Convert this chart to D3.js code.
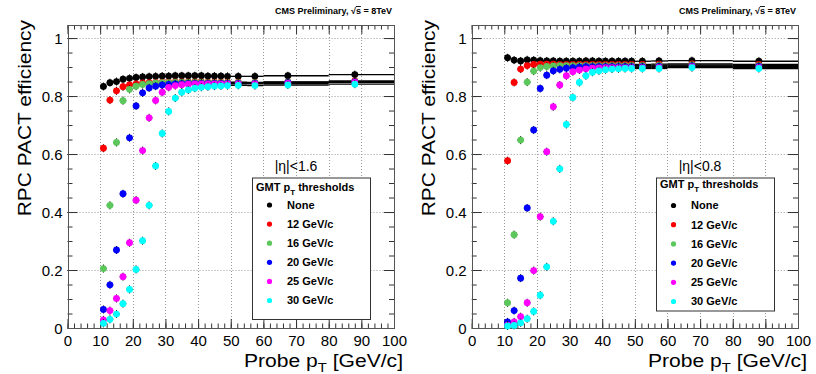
<!DOCTYPE html>
<html>
<head>
<meta charset="utf-8">
<script src="https://cdn.jsdelivr.net/npm/d3@7"></script>
<style>
body { margin: 0; background: #fff; }
text { font-family: "Liberation Sans", Arial, Helvetica, sans-serif; }
</style>
</head>
<body>
<script>
// probe pT bins (GeV/c): low edge, high edge, mean pT of the bin
const binLo  = [10, 12, 14, 16, 18, 20, 22, 24, 26, 28, 30, 32, 34, 36, 38, 40, 42, 44, 46, 48, 50, 55, 60, 80];
const binHi  = [12, 14, 16, 18, 20, 22, 24, 26, 28, 30, 32, 34, 36, 38, 40, 42, 44, 46, 48, 50, 55, 60, 80, 100];
const ptMean = [11, 13, 15, 17, 19, 21, 23, 25, 27, 29, 31, 33, 35, 37, 39, 41, 43, 45, 47, 49, 52.3, 57.4, 67.5, 88];

const seriesNames = ["None", "12 GeV/c", "16 GeV/c", "20 GeV/c", "25 GeV/c", "30 GeV/c"];
const seriesColors = ["#000000", "#ff0000", "#5cc85c", "#0000ff", "#ff00ff", "#00ffff"];

// |eta| < 1.6
const eff16_none = [.833,.846,.850,.858,.861,.864,.866,.867,.868,.869,.869,.870,.870,.870,.870,.870,.869,.869,.869,.868,.868,.868,.870,.874];
const eff16_12   = [.620,.786,.818,.832,.838,.842,.845,.846,.847,.848,.848,.849,.849,.849,.849,.849,.848,.848,.848,.848,.848,.847,.849,.852];
const eff16_16   = [.205,.423,.640,.784,.823,.834,.840,.843,.845,.846,.846,.847,.847,.847,.847,.847,.846,.846,.846,.846,.846,.846,.848,.850];
const eff16_20   = [.064,.149,.269,.463,.656,.766,.811,.828,.834,.838,.840,.842,.843,.844,.844,.844,.844,.844,.844,.844,.844,.844,.846,.849];
const eff16_25   = [.028,.060,.102,.177,.294,.441,.612,.725,.785,.813,.830,.836,.839,.841,.842,.842,.842,.842,.842,.842,.842,.842,.844,.847];
const eff16_30   = [.016,.030,.048,.084,.133,.202,.301,.423,.559,.671,.747,.793,.813,.821,.827,.830,.832,.834,.835,.836,.837,.836,.838,.841];

// |eta| < 0.8
const eff08_none = [.932,.924,.921,.925,.924,.922,.921,.921,.920,.920,.920,.920,.921,.921,.920,.920,.920,.920,.920,.920,.920,.921,.922,.920];
const eff08_12   = [.577,.847,.893,.905,.909,.910,.910,.910,.909,.909,.909,.909,.909,.909,.909,.909,.909,.909,.909,.909,.909,.910,.911,.909];
const eff08_16   = [.087,.322,.648,.848,.886,.898,.902,.904,.905,.905,.905,.905,.905,.905,.905,.905,.905,.905,.905,.905,.905,.906,.907,.905];
const eff08_20   = [.021,.060,.172,.414,.683,.826,.872,.887,.892,.896,.898,.900,.901,.901,.901,.901,.901,.901,.901,.901,.901,.902,.904,.902];
const eff08_25   = [.010,.021,.039,.087,.198,.384,.608,.763,.838,.870,.884,.890,.894,.896,.897,.898,.898,.898,.898,.898,.898,.899,.901,.899];
const eff08_30   = [.007,.009,.018,.032,.057,.113,.211,.368,.549,.702,.795,.847,.870,.882,.887,.891,.893,.894,.895,.895,.895,.895,.898,.895];

const xTicks = d3.range(0, 101, 10);
const yTicks = [0, 0.2, 0.4, 0.6, 0.8, 1];

const svgWidth = 816;
const svgHeight = 374;

const frameTop = 25;
const frameBottom = 328;

const panels = [
    {
        left: 67.5, right: 394, etaLabel: "|η|<1.6",
        series: [eff16_none, eff16_12, eff16_16, eff16_20, eff16_25, eff16_30],
        legend: {x: 252, y: 177.5, w: 118, h: 141.5, etaX: 296, titleY: 191, rowY: 205, step: 19.1}
    },
    {
        left: 471.7, right: 798, etaLabel: "|η|<0.8",
        series: [eff08_none, eff08_12, eff08_16, eff08_20, eff08_25, eff08_30],
        legend: {x: 656, y: 177.5, w: 118, h: 133, etaX: 700, titleY: 188, rowY: 205.5, step: 19.2}
    }
];

const svg = d3.select("body")
    .append("svg")
    .attr("width", svgWidth)
    .attr("height", svgHeight)
    .style("background", "#fff");

panels.forEach(draw_panel);

function draw_panel(p) {
    const x = d3.scaleLinear().domain([0, 100]).range([p.left, p.right]);
    const y = d3.scaleLinear().domain([0, 1.045]).range([frameBottom, frameTop]);

    const g = svg.append("g");

    // dotted grid
    const grid = g.append("g")
        .attr("stroke", "#999")
        .attr("stroke-width", 1)
        .attr("stroke-dasharray", "1,2");
    grid.selectAll(null)
        .data(xTicks.slice(1, -1))
        .join("line")
        .attr("x1", d => Math.round(x(d)) + 0.5).attr("x2", d => Math.round(x(d)) + 0.5)
        .attr("y1", frameTop).attr("y2", frameBottom);
    grid.selectAll(null)
        .data(yTicks.slice(1))
        .join("line")
        .attr("x1", p.left).attr("x2", p.right)
        .attr("y1", d => Math.round(y(d)) + 0.5).attr("y2", d => Math.round(y(d)) + 0.5);

    // axes, ROOT style: ticks inside on all four sides
    const axisStyle = sel => {
        sel.select(".domain").remove();
        sel.selectAll(".tick line").attr("stroke", "#333");
    };
    g.append("g")
        .attr("transform", `translate(0,${frameBottom})`)
        .call(d3.axisBottom(x).tickValues(xTicks).tickSizeInner(-9).tickSizeOuter(0).tickFormat(d3.format("d")))
        .call(axisStyle)
        .call(s => s.selectAll("text")
            .attr("y", 18).attr("dy", 0)
            .attr("fill", "#000")
            .style("font-size", "15px"));
    g.append("g")
        .attr("transform", `translate(0,${frameBottom})`)
        .call(d3.axisBottom(x).tickValues(d3.range(0, 101, 2)).tickSizeInner(-4.5).tickSizeOuter(0).tickFormat(""))
        .call(axisStyle);
    g.append("g")
        .attr("transform", `translate(0,${frameTop})`)
        .call(d3.axisTop(x).tickValues(xTicks).tickSizeInner(-9).tickSizeOuter(0).tickFormat(""))
        .call(axisStyle);
    g.append("g")
        .attr("transform", `translate(0,${frameTop})`)
        .call(d3.axisTop(x).tickValues(d3.range(0, 101, 2)).tickSizeInner(-4.5).tickSizeOuter(0).tickFormat(""))
        .call(axisStyle);

    g.append("g")
        .attr("transform", `translate(${p.left},0)`)
        .call(d3.axisLeft(y).tickValues(yTicks).tickSizeInner(-10).tickSizeOuter(0)
            .tickFormat(d => (d === 0 || d === 1) ? String(d) : d.toFixed(1)))
        .call(axisStyle)
        .call(s => s.selectAll("text")
            .attr("x", -5).attr("dy", "0.35em")
            .attr("fill", "#000")
            .style("font-size", "15px"));
    g.append("g")
        .attr("transform", `translate(${p.left},0)`)
        .call(d3.axisLeft(y).tickValues(d3.range(0, 21).map(i => i * 0.05)).tickSizeInner(-5).tickSizeOuter(0).tickFormat(""))
        .call(axisStyle);
    g.append("g")
        .attr("transform", `translate(${p.right},0)`)
        .call(d3.axisRight(y).tickValues(yTicks).tickSizeInner(-10).tickSizeOuter(0).tickFormat(""))
        .call(axisStyle);
    g.append("g")
        .attr("transform", `translate(${p.right},0)`)
        .call(d3.axisRight(y).tickValues(d3.range(0, 21).map(i => i * 0.05)).tickSizeInner(-5).tickSizeOuter(0).tickFormat(""))
        .call(axisStyle);

    // frame
    g.append("rect")
        .attr("x", Math.round(p.left) + 0.5)
        .attr("y", frameTop + 0.5)
        .attr("width", Math.round(p.right) - Math.round(p.left))
        .attr("height", frameBottom - frameTop)
        .attr("fill", "none")
        .attr("stroke", "#555");

    // series: black bin-width error bars, then coloured markers
    p.series.forEach((vals, si) => {
        const pts = vals.map((v, i) => ({lo: binLo[i], hi: binHi[i], pt: ptMean[i], eff: v}));
        const sg = g.append("g");
        sg.selectAll(null)
            .data(pts)
            .join("line")
            .attr("x1", d => x(d.lo)).attr("x2", d => x(d.hi))
            .attr("y1", d => y(d.eff)).attr("y2", d => y(d.eff))
            .attr("stroke", "#000")
            .attr("stroke-width", 1.3);
        sg.selectAll(null)
            .data(pts)
            .join("line")
            .attr("x1", d => x(d.pt)).attr("x2", d => x(d.pt))
            .attr("y1", d => y(d.eff) - 4).attr("y2", d => y(d.eff) + 4)
            .attr("stroke", "#000")
            .attr("stroke-width", 1);
        sg.selectAll(null)
            .data(pts)
            .join("circle")
            .attr("cx", d => x(d.pt))
            .attr("cy", d => y(d.eff))
            .attr("r", 3.4)
            .attr("fill", seriesColors[si]);
    });

    // titles (ROOT output is slightly stretched along the text direction)
    g.append("text")
        .attr("transform", `translate(${p.left - 37},${20}) rotate(-90) scale(1.1,1)`)
        .attr("text-anchor", "end")
        .style("font-size", "19px")
        .text("RPC PACT efficiency");

    const xt = g.append("text")
        .attr("transform", `translate(${p.right + 9},367) scale(1.14,1)`)
        .attr("text-anchor", "end")
        .style("font-size", "18.5px");
    xt.append("tspan").text("Probe p");
    xt.append("tspan").attr("dy", 5).style("font-size", "13px").text("T");
    xt.append("tspan").attr("dy", -5).text(" [GeV/c]");

    const cms = g.append("text")
        .attr("x", p.right - 2)
        .attr("y", 14)
        .attr("text-anchor", "end")
        .style("font-size", "9px")
        .style("font-weight", "bold");
    cms.append("tspan").text("CMS Preliminary, √");
    cms.append("tspan").style("text-decoration", "overline").text("s");
    cms.append("tspan").text(" = 8TeV");

    draw_legend(g, p);
}

function draw_legend(g, p) {
    const L = p.legend;
    g.append("text")
        .attr("x", L.etaX)
        .attr("y", L.y - 7)
        .attr("text-anchor", "middle")
        .style("font-size", "14px")
        .text(p.etaLabel);

    g.append("rect")
        .attr("x", L.x + 0.5).attr("y", L.y + 0.5)
        .attr("width", L.w).attr("height", L.h)
        .attr("fill", "#fff")
        .attr("stroke", "#333");

    const title = g.append("text")
        .attr("x", L.x + 4)
        .attr("y", L.titleY)
        .style("font-size", "11px")
        .style("font-weight", "bold");
    title.append("tspan").text("GMT p");
    title.append("tspan").attr("dy", 4).style("font-size", "8px").text("T");
    title.append("tspan").attr("dy", -4).text(" thresholds");

    const rows = g.append("g")
        .selectAll("g")
        .data(seriesNames)
        .join("g")
        .attr("transform", (d, i) => `translate(${L.x},${L.rowY + i * L.step})`);
    rows.append("circle")
        .attr("cx", 17.5)
        .attr("r", 2.6)
        .attr("fill", (d, i) => seriesColors[i]);
    rows.append("text")
        .attr("x", 35)
        .attr("dy", "0.36em")
        .style("font-size", "11px")
        .style("font-weight", "bold")
        .text(d => d);
}
</script>
</body>
</html>
